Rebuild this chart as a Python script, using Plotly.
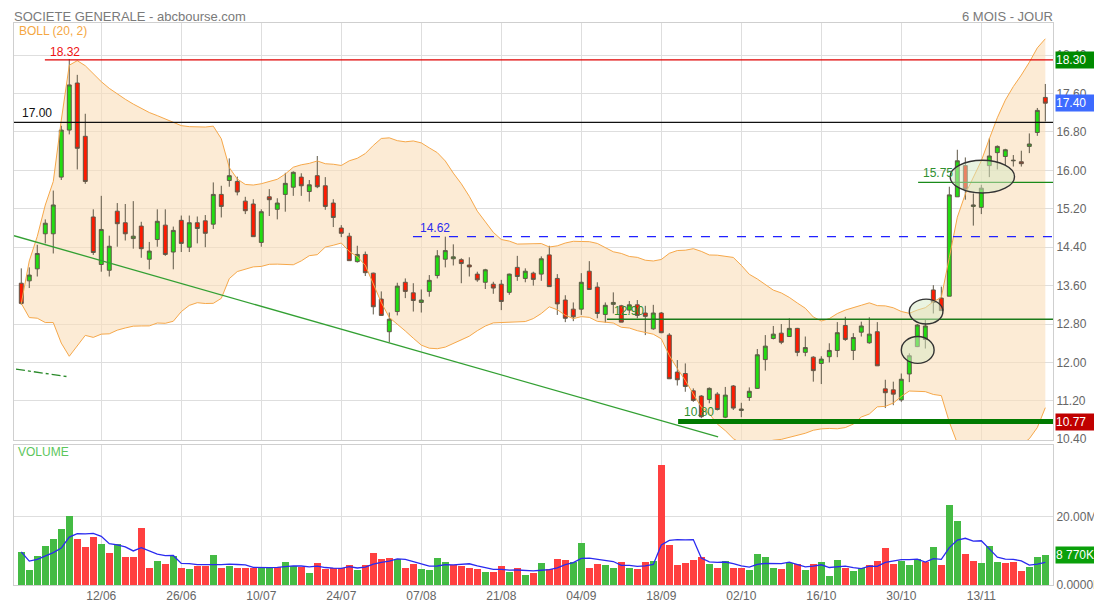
import numpy as np
import pandas as pd
import plotly.graph_objects as go
from plotly.subplots import make_subplots

# ---------------- data ----------------
dates = pd.bdate_range("2020-05-29", "2020-11-25")
tick_labels = ["12/06", "26/06", "10/07", "24/07", "07/08", "21/08",
               "04/09", "18/09", "02/10", "16/10", "30/10", "13/11"]

opens = [13.65, 13.70, 13.95, 14.68, 14.68, 15.86, 16.84, 17.82, 16.71, 15.03,
         14.04, 13.92, 15.15, 14.91, 14.58, 14.84, 14.15, 14.56, 14.86, 14.30,
         14.96, 14.40, 14.91, 14.95, 14.88, 15.50, 15.79, 15.77, 15.36, 15.30,
         14.50, 15.45, 15.19, 15.50, 15.65, 15.86, 15.56, 15.89, 15.68, 15.32,
         14.80, 14.63, 14.10, 14.25, 13.86, 13.32, 12.64, 13.06, 13.67, 13.45,
         13.25, 13.48, 13.81, 14.15, 14.16, 14.14, 14.03, 13.84, 13.67, 13.63,
         13.63, 13.46, 13.98, 13.75, 13.86, 13.84, 14.24, 13.75, 13.30, 13.11,
         13.11, 13.90, 13.57, 13.00, 13.21, 13.18, 13.09, 13.20, 13.03, 12.70,
         13.03, 12.57, 11.80, 11.77, 11.41, 11.30, 11.23, 11.34, 10.86, 11.51,
         11.00, 11.27, 11.46, 12.06, 12.50, 12.61, 12.54, 12.71, 12.21, 12.11,
         11.98, 12.12, 12.25, 12.77, 12.25, 12.63, 12.41, 12.64, 11.45, 11.43,
         11.22, 11.76, 12.33, 12.48, 13.51, 13.34, 13.38, 15.45, 16.10, 15.25,
         15.23, 16.10, 16.37, 16.29, 16.20, 16.18, 16.50, 16.79, 17.52]
highs = [13.96, 13.98, 14.45, 14.98, 15.58, 16.93, 18.32, 17.99, 17.18, 15.19,
         15.47, 14.64, 15.32, 15.30, 15.36, 14.93, 14.51, 15.19, 15.19, 14.83,
         15.06, 15.06, 15.04, 15.07, 15.75, 15.68, 16.25, 15.87, 15.45, 15.40,
         15.19, 15.61, 15.42, 15.95, 15.98, 15.94, 15.80, 16.30, 15.86, 15.40,
         14.86, 14.70, 14.43, 14.31, 13.87, 13.48, 13.04, 13.66, 13.75, 13.65,
         13.52, 13.82, 14.34, 14.62, 14.46, 14.17, 14.19, 13.89, 13.95, 13.68,
         13.72, 13.85, 14.22, 13.96, 13.89, 14.21, 14.43, 13.84, 13.40, 13.25,
         13.86, 14.11, 13.67, 13.25, 13.46, 13.20, 13.28, 13.30, 13.18, 13.20,
         13.05, 12.61, 12.05, 11.98, 11.46, 11.32, 11.48, 11.38, 11.49, 11.53,
         11.16, 11.48, 12.28, 12.57, 12.76, 12.80, 12.92, 12.72, 12.54, 12.13,
         12.13, 12.40, 12.84, 12.95, 12.61, 12.85, 12.94, 12.84, 11.64, 11.60,
         11.77, 12.19, 12.80, 12.90, 13.61, 13.58, 15.66, 16.43, 16.27, 15.52,
         15.70, 16.67, 16.52, 16.45, 16.32, 16.41, 16.77, 17.30, 17.80]
lows = [13.20, 13.55, 13.79, 14.48, 14.27, 15.80, 16.75, 16.02, 15.72, 14.24,
        13.89, 13.79, 14.41, 14.54, 14.37, 14.18, 13.94, 14.41, 14.22, 13.94,
        14.30, 14.30, 14.48, 14.40, 14.78, 15.02, 15.66, 15.48, 15.09, 14.62,
        14.41, 15.05, 14.98, 15.14, 15.47, 15.47, 15.35, 15.63, 15.18, 14.82,
        14.61, 14.12, 14.08, 13.80, 13.00, 12.97, 12.42, 12.98, 13.34, 13.06,
        13.04, 13.37, 13.75, 13.98, 14.02, 13.65, 13.79, 13.68, 13.53, 13.43,
        13.09, 13.41, 13.70, 13.67, 13.60, 13.70, 13.58, 12.99, 12.84, 12.86,
        12.99, 13.52, 12.92, 12.83, 13.02, 12.84, 13.02, 12.92, 12.57, 12.68,
        12.61, 11.66, 11.52, 11.39, 11.18, 10.84, 11.15, 11.00, 10.84, 11.01,
        10.86, 11.20, 11.45, 11.83, 12.48, 12.38, 12.53, 12.13, 12.13, 11.60,
        11.55, 12.00, 12.11, 12.45, 12.05, 12.54, 12.39, 11.93, 11.05, 11.11,
        11.18, 11.59, 12.32, 12.29, 13.02, 13.08, 13.38, 15.45, 15.39, 14.85,
        15.09, 15.86, 16.02, 16.10, 16.08, 16.08, 16.36, 16.72, 17.02]
closes = [13.23, 13.82, 14.27, 14.90, 15.28, 16.84, 17.78, 16.46, 15.77, 14.29,
          14.77, 14.42, 14.89, 14.68, 14.63, 14.37, 14.32, 14.94, 14.25, 14.75,
          14.48, 14.91, 14.79, 14.69, 15.50, 15.25, 15.89, 15.55, 15.16, 14.62,
          15.14, 15.39, 15.32, 15.73, 15.96, 15.68, 15.70, 15.66, 15.25, 15.02,
          14.69, 14.12, 14.25, 13.87, 13.16, 12.98, 12.90, 13.59, 13.48, 13.29,
          13.30, 13.71, 14.22, 14.33, 14.20, 14.06, 13.99, 13.72, 13.93, 13.55,
          13.27, 13.84, 13.79, 13.90, 13.73, 14.16, 13.58, 13.22, 12.92, 12.95,
          13.67, 13.52, 13.02, 13.19, 13.25, 12.84, 13.20, 12.98, 12.96, 13.03,
          12.62, 11.66, 11.64, 11.50, 11.21, 10.87, 11.46, 11.02, 11.32, 11.05,
          11.03, 11.40, 12.16, 12.34, 12.59, 12.42, 12.71, 12.21, 12.31, 11.83,
          12.07, 12.25, 12.62, 12.48, 12.52, 12.76, 12.59, 11.93, 11.37, 11.34,
          11.65, 12.14, 12.78, 12.76, 13.25, 13.08, 15.49, 16.20, 15.61, 15.28,
          15.63, 16.30, 16.50, 16.43, 16.21, 16.14, 16.55, 17.25, 17.40]
volume_m = [9.7, 4.3, 8.5, 11.5, 13.4, 16.4, 20.3, 13.5, 11.2, 14.2,
            12.1, 9.4, 11.9, 8.3, 8.2, 16.8, 5.1, 6.9, 6.1, 8.4,
            5.1, 4.8, 5.5, 5.5, 8.9, 5.0, 5.6, 5.0, 5.1, 5.1,
            5.4, 4.9, 5.3, 6.6, 5.7, 5.3, 3.6, 6.4, 4.6, 4.9,
            4.9, 6.0, 4.5, 5.8, 9.4, 7.5, 7.9, 7.7, 4.9, 6.2,
            4.6, 4.3, 7.8, 6.8, 5.9, 5.5, 5.1, 4.7, 3.9, 3.7,
            5.5, 3.9, 5.0, 2.8, 3.6, 6.3, 4.8, 7.7, 7.4, 6.7,
            12.3, 5.1, 6.1, 5.9, 5.0, 6.7, 5.0, 4.6, 6.7, 7.0,
            35.2, 11.8, 5.8, 6.3, 7.4, 8.2, 6.1, 5.1, 6.9, 5.0,
            5.0, 4.3, 9.1, 8.3, 5.0, 4.6, 6.5, 6.1, 4.3, 6.1,
            6.6, 2.5, 7.3, 5.1, 4.0, 5.1, 6.0, 7.0, 10.9, 6.2,
            7.1, 6.0, 7.7, 6.7, 11.1, 6.0, 23.3, 18.8, 9.2, 7.0,
            6.5, 11.4, 6.7, 6.3, 6.7, 4.1, 5.3, 8.3, 8.77]

# horizontal levels drawn by the user on the chart
level_high = 18.30
level_high_label = "18.32"
level_17 = 17.00
level_resist = 14.62
level_mid = 12.90
level_support = 10.77
level_support_label = "10.80"
level_gap = 15.75
last_close = 17.40
last_volume_label = "8 770K"

# ---------------- derived (indicator computations) ----------------
n = len(closes)
idx = np.arange(n)
c = np.array(closes)
upper, lower = [], []
for i in range(n):
    w = c[max(0, i - 19):i + 1]
    m, s = w.mean(), w.std()
    upper.append(m + 2 * s)
    lower.append(m - 2 * s)
vol = np.array(volume_m) * 1e6
vol_ma = [vol[max(0, i - 4):i + 1].mean() for i in range(n)]
vol_colors = ["#44bb44"] + ["#44bb44" if c[i] >= c[i - 1] else "#ff4040" for i in range(1, n)]

dstr = list(dates.strftime("%d/%m"))
tick_pos = [dstr.index(t) for t in tick_labels]

# ---------------- figure geometry (page pixels; page body has an 8px margin) ----------------
W, H = 1102, 607
OFF = 8
PL, PR, PT, PB = 14, 1053, 23, 585        # plot area in page pixels
ml, mt = PL - OFF, PT - OFF
mr, mb = (W + OFF) - PR, (H + OFF) - PB
plot_h = H - mt - mb
XR = [-0.91, 128.96]

def py(ypx):
    return (PB - ypx) / plot_h

def px(xpx):
    return (xpx - PL) / (PR - PL)

fig = make_subplots(rows=2, cols=1, shared_xaxes=True, vertical_spacing=0.01)

band_line = dict(color="#f6a84a", width=1)
fig.add_trace(go.Scatter(x=idx, y=lower, mode="lines", line=band_line,
                         hoverinfo="skip", showlegend=False), row=1, col=1)
fig.add_trace(go.Scatter(x=idx, y=upper, mode="lines", line=band_line,
                         hoverinfo="skip", showlegend=False), row=1, col=1)

fig.add_trace(go.Candlestick(
    x=idx, open=opens, high=highs, low=lows, close=closes,
    increasing=dict(fillcolor="#22dd11", line=dict(color="#5f5848", width=1)),
    decreasing=dict(fillcolor="#ff1a00", line=dict(color="#5f5848", width=1)),
    whiskerwidth=0, showlegend=False, hoverinfo="skip"), row=1, col=1)

fig.add_trace(go.Bar(x=idx, y=vol, marker=dict(color=vol_colors, line=dict(width=0)),
                     width=0.84, showlegend=False, hoverinfo="skip"), row=2, col=1)
fig.add_trace(go.Scatter(x=idx, y=vol_ma, mode="lines",
                         line=dict(color="#2a2af0", width=1.3),
                         hoverinfo="skip", showlegend=False), row=2, col=1)

price_dom = [py(440), 1]
vol_dom = [0, py(445)]

grid = "#dedede"
axfont = dict(family="Liberation Sans, Arial, sans-serif", size=12, color="#666666")
price_ticks = [10.4 + 0.8 * k for k in range(11)]

fig.update_layout(
    width=W, height=H, margin=dict(l=ml, r=mr, t=mt, b=mb),
    paper_bgcolor="white", plot_bgcolor="white",
    font=dict(family="Liberation Sans, Arial, sans-serif"),
    bargap=0, showlegend=False,
    xaxis=dict(range=XR, tickvals=tick_pos, ticktext=tick_labels, showticklabels=False,
               showgrid=True, gridcolor=grid, zeroline=False, rangeslider=dict(visible=False),
               showline=True, linecolor="#cfcfcf", mirror=True, ticks=""),
    xaxis2=dict(range=XR, tickvals=tick_pos, ticktext=tick_labels, showticklabels=True,
                showgrid=True, gridcolor=grid, zeroline=False, tickfont=axfont,
                showline=True, linecolor="#cfcfcf", mirror=True, ticks=""),
    yaxis=dict(domain=price_dom, range=[10.385, 19.07], side="right",
               tickvals=price_ticks, ticktext=[f"{v:.2f}" for v in price_ticks],
               showgrid=True, gridcolor=grid, zeroline=False, tickfont=axfont,
               showline=True, linecolor="#cfcfcf", mirror=True, ticks=""),
    yaxis2=dict(domain=vol_dom, range=[0, 41e6], side="right",
                tickvals=[0, 20e6], ticktext=["0.0000M", "20.00M"],
                showgrid=True, gridcolor=grid, zeroline=False, tickfont=axfont,
                showline=True, linecolor="#cfcfcf", mirror=True, ticks=""),
)

# ---------------- drawn objects ----------------
shapes = []
# Bollinger band area (behind the candles), built from the computed band values
band_path = "M " + " L ".join(f"{x},{y:.4f}" for x, y in zip(idx, upper))
band_path += " L " + " L ".join(f"{x},{y:.4f}" for x, y in zip(idx[::-1], lower[::-1])) + " Z"
shapes.append(dict(type="path", xref="x", yref="y", path=band_path, layer="between",
                   fillcolor="rgba(250,222,185,0.6)", line=dict(width=0)))

def hline(y, x0, color, width=1.5, dash="solid"):
    shapes.append(dict(type="line", xref="x", yref="y", x0=x0, x1=XR[1], y0=y, y1=y,
                       line=dict(color=color, width=width, dash=dash)))

hline(level_high, 2.95, "#e00000", 1.3)
hline(level_17, XR[0], "#111111", 1.3)
hline(level_resist, 48.96, "#2020ff", 1.3, "dash")
hline(level_mid, 73.2, "#1a7a1a", 1.3)
hline(level_support, 82.1, "#007a00", 5)
hline(level_gap, 112.1, "#1a8a1a", 1.3)

shapes.append(dict(type="line", xref="x", yref="y", x0=XR[0], y0=14.64, x1=87.1, y1=10.45,
                   line=dict(color="#33a033", width=1.3)))
shapes.append(dict(type="line", xref="x", yref="y", x0=-0.66, y0=11.86, x1=5.96, y1=11.70,
                   line=dict(color="#2a8a2a", width=1.3, dash="dashdot")))

ell = dict(type="circle", xref="x", yref="y", fillcolor="rgba(214,234,196,0.5)",
           line=dict(color="#333333", width=1.4))
shapes.append(dict(ell, x0=110.0, x1=114.1, y0=11.98, y1=12.54))
shapes.append(dict(ell, x0=111.0, x1=115.2, y0=12.80, y1=13.32))
shapes.append(dict(ell, x0=116.1, x1=124.15, y0=15.53, y1=16.21))
fig.update_layout(shapes=shapes)

ann = []
def ptxt(text, x, y, color, size=12, xanchor="left", yanchor="middle"):
    ann.append(dict(text=text, xref="paper", yref="paper", x=x, y=y, xanchor=xanchor,
                    yanchor=yanchor, showarrow=False, borderpad=0,
                    font=dict(size=size, color=color)))

# the header sits at the very top edge of the figure
ptxt("SOCIETE GENERALE - abcbourse.com", px(13), py(OFF), "#7a7a7a", 13, yanchor="top")
ptxt("6 MOIS - JOUR", px(1054), py(OFF), "#7a7a7a", 13, "right", yanchor="top")
ptxt("BOLL (20, 2)", px(18), py(31), "#f5a742", 12)
ptxt("VOLUME", px(17), py(452), "#5cc65c", 12)

def ltxt(text, x, y, color, xanchor="left", yshift=0):
    ann.append(dict(text=text, xref="x", yref="y", x=x, y=y, xanchor=xanchor, yanchor="bottom",
                    yshift=yshift, showarrow=False, font=dict(size=12, color=color)))

ltxt(level_high_label, 5.5, level_high, "#ee1111", "center", -1)
ltxt(f"{level_17:.2f}", -0.2, level_17, "#111111")
ltxt(f"{level_resist:.2f}", 49.6, level_resist, "#2a2aee")
ltxt(f"{level_mid:.2f}", 73.8, level_mid, "#2f8f2f", yshift=-1)
ltxt(level_support_label, 82.6, level_support, "#2f8f2f", yshift=1)
ltxt(f"{level_gap:.2f}", 112.5, level_gap, "#2f8f2f")

def box(text, y, yref, bg):
    ann.append(dict(text=text, xref="paper", yref=yref, x=1, y=y, xanchor="left", yanchor="middle",
                    xshift=2, showarrow=False, bgcolor=bg, width=46, height=16, align="left",
                    borderpad=0, font=dict(size=12, color="white")))

box(f"{level_high:.2f}", level_high, "y", "#008a00")
box(f"{last_close:.2f}", last_close, "y", "#3d6bff")
box(f"{level_support:.2f}", level_support, "y", "#c00000")
box(last_volume_label, volume_m[-1] * 1e6, "y2", "#0aa00a")

fig.update_layout(annotations=ann)
fig.write_html("out.html")
